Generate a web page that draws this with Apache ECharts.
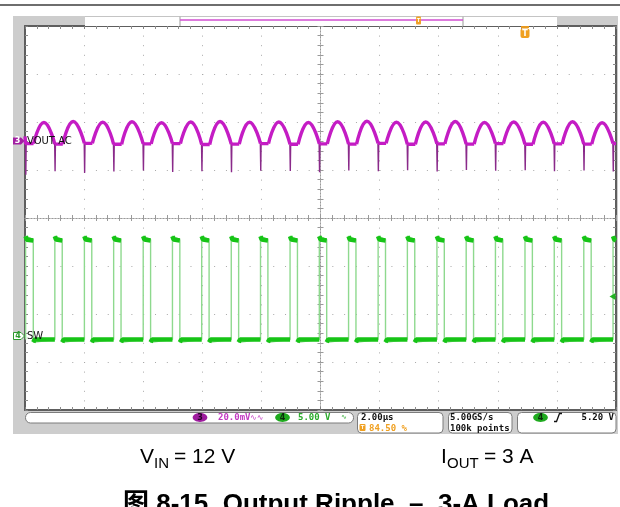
<!DOCTYPE html>
<html><head><meta charset="utf-8">
<script src="https://cdn.jsdelivr.net/npm/echarts@6/dist/echarts.min.js"></script>
<style>html,body{margin:0;padding:0;background:#fff}#c{width:620px;height:507px}</style>
</head><body><div id="c"></div>
<script>
// ---- data read from the scope capture (time in µs, 2 µs/div) ----
const swRiseUs  = [0.02,1.01,2.01,3.00,4.00,4.99,5.98,6.98,7.97,8.97,9.96,10.95,11.95,12.94,13.94,14.93,15.92,16.92,17.91,18.91,19.90];
const swFallUs  = [0.28,1.26,2.26,3.25,4.25,5.24,6.23,7.23,8.22,9.22,10.21,11.20,12.20,13.19,14.19,15.18,16.17,17.17,18.16,19.16];
const swHighV = 10.15, swOvershootV = 10.5, swLowV = -0.25, swUndershootV = -0.55;

const voutEdgeUs      = swRiseUs;
const voutTroughEndUs = [0.29,1.28,2.28,3.27,4.27,5.26,6.25,7.25,8.24,9.24,10.23,11.22,12.22,13.21,14.21,15.20,16.19,17.19,18.18,19.18];
const voutPeakUs      = [0.64,1.63,2.63,3.62,4.62,5.61,6.60,7.60,8.59,9.59,10.58,11.57,12.57,13.56,14.56,15.55,16.54,17.54,18.53,19.53];
const voutPeakMv      = [7.8,8.2,7.9,8.1,7.7,8.0,8.2,7.9,8.0,7.8,8.1,8.3,7.9,8.0,8.2,7.8,8.0,7.9,8.1,7.7];
const voutTroughMv    = [-1.0,-1.2,-0.9,-1.3,-1.1,-1.0,-1.4,-1.2,-1.0,-1.3,-1.1,-1.2,-0.9,-1.3,-1.1,-1.2,-1.0,-1.3,-1.1,-1.2,-1.0];
const voutSpikeMv     = [-14.0,-12.5,-13.2,-12.6,-12.2,-12.8,-12.5,-12.9,-12.3,-12.4,-12.9,-12.2,-12.5,-12.1,-12.6,-12.0,-12.3,-12.1,-12.5,-12.2,-12.6];
const voutStartMv = 2.0;

// channel settings
const ch3MvPerDiv = 20, ch3PosDiv = 1.6;
const ch4VPerDiv = 5, ch4PosDiv = -2.48;

// ---- build polylines ----
const voutFlat = [[0, voutStartMv]];
const voutArch = [];
for (let k = 0; k < voutEdgeUs.length; k++) {
  const e = voutEdgeUs[k];
  voutFlat.push([e, voutTroughMv[k]]);
  if (k < voutPeakUs.length) {
    voutFlat.push([voutTroughEndUs[k], voutTroughMv[k]], [null, null]);
    const nextE = voutEdgeUs[k + 1];
    voutArch.push([voutTroughEndUs[k], voutTroughMv[k]], [voutPeakUs[k], voutPeakMv[k]], [nextE, voutTroughMv[k + 1]], [null, null]);
  } else {
    voutFlat.push([20, voutTroughMv[k]]);
  }
}
const voutSpikes = [];
for (let k = 0; k < voutEdgeUs.length; k++) {
  const e = voutEdgeUs[k];
  voutSpikes.push([e - 0.006, voutTroughMv[k]], [e + 0.008, voutSpikeMv[k]], [e + 0.02, voutTroughMv[k]], [null, null]);
}
const swEdges = [];
const swLevels = [];
for (let k = 0; k < swRiseUs.length; k++) {
  const r = swRiseUs[k];
  const f = k < swFallUs.length ? swFallUs[k] : 20;
  swEdges.push([r, swLowV], [r, swOvershootV], [f, swHighV]);
  if (k < swFallUs.length) swEdges.push([f, swUndershootV]);
  swLevels.push([r, swOvershootV], [r + 0.04, swHighV], [f, swHighV - 0.1], [null, null]);
  if (k < swFallUs.length) {
    const nr = k + 1 < swRiseUs.length ? swRiseUs[k + 1] : 20;
    swLevels.push([f, swUndershootV], [f + 0.05, swLowV], [nr, swLowV], [null, null]);
  }
}

// ---- axes ----
function xa(extra) {
  return Object.assign({
    type: 'value', min: 0, max: 20, interval: 2, gridIndex: 0,
    axisLine: {show: true, onZero: false, lineStyle: {color: '#5e5e5e', width: 2}},
    axisTick: {show: true, inside: true, length: 3, lineStyle: {color: '#808080'}},
    minorTick: {show: true, splitNumber: 5, length: 3, lineStyle: {color: '#8c8c8c'}},
    axisLabel: {show: false}, splitLine: {show: false}
  }, extra);
}
function ya(extra) {
  return Object.assign({
    type: 'value', min: -4, max: 4, interval: 1, gridIndex: 0,
    axisLine: {show: true, onZero: false, lineStyle: {color: '#5e5e5e', width: 2}},
    axisTick: {show: true, inside: true, length: 3, lineStyle: {color: '#808080'}},
    minorTick: {show: true, splitNumber: 5, length: 3, lineStyle: {color: '#8c8c8c'}},
    axisLabel: {show: false}, splitLine: {show: false}
  }, extra);
}
const centerLine = {show: true, onZero: false, lineStyle: {color: '#9a9a9a', width: 1, type: [1, 2]}};
const centerTick = {show: true, length: 3, lineStyle: {color: '#9a9a9a'}};
const centerMinor = {show: true, splitNumber: 5, length: 3, lineStyle: {color: '#9a9a9a'}};

const xAxes = [
  xa({position: 'bottom', splitLine: {show: true, lineStyle: {color: '#a8a8a8', width: 1, type: [1, 8.6]}}}),
  xa({position: 'top'}),
  xa({position: 'top', offset: -192, axisLine: centerLine, axisTick: Object.assign({inside: true}, centerTick), minorTick: centerMinor}),
  xa({position: 'top', offset: -192, axisLine: centerLine, axisTick: Object.assign({inside: false}, centerTick), minorTick: centerMinor})
];
const yAxes = [
  ya({position: 'left', splitLine: {show: true, lineStyle: {color: '#a8a8a8', width: 1, type: [1, 10.82]}}}),
  ya({position: 'right'}),
  ya({position: 'left', offset: -295.5, axisLine: centerLine, axisTick: Object.assign({inside: true}, centerTick), minorTick: centerMinor}),
  ya({position: 'left', offset: -295.5, axisLine: centerLine, axisTick: Object.assign({inside: false}, centerTick), minorTick: centerMinor}),
  {type: 'value', show: false, min: -(4 + ch3PosDiv) * ch3MvPerDiv, max: (4 - ch3PosDiv) * ch3MvPerDiv},
  {type: 'value', show: false, min: -(4 + ch4PosDiv) * ch4VPerDiv, max: (4 - ch4PosDiv) * ch4VPerDiv}
];

// ---- decorations ----
const mono = 'bold 9px "DejaVu Sans Mono", monospace';
function txt(x, y, s, fill, font, align, valign, z) {
  return {type: 'text', x: x, y: y, z: z || 50, silent: true,
    style: {text: s, fill: fill, font: font, align: align || 'left', verticalAlign: valign || 'middle',
            textAlign: align || 'left', textVerticalAlign: valign || 'middle'}};
}
function rect(x, y, w, h, fill, stroke, r, z, lw) {
  return {type: 'rect', z: z === undefined ? 50 : z, silent: true, shape: {x: x, y: y, width: w, height: h, r: r || 0},
    style: {fill: fill, stroke: stroke || null, lineWidth: lw || 1}};
}
function line(x1, y1, x2, y2, color, w, z) {
  return {type: 'line', z: z || 50, silent: true, shape: {x1: x1, y1: y1, x2: x2, y2: y2}, style: {stroke: color, lineWidth: w}};
}
function poly(points, fill, stroke, z) {
  return {type: 'polygon', z: z || 50, silent: true, shape: {points: points}, style: {fill: fill, stroke: stroke || null, lineWidth: 1}};
}
function ell(cx, cy, rx, ry, fill, z) {
  return {type: 'ellipse', z: z || 50, silent: true, shape: {cx: cx, cy: cy, rx: rx, ry: ry}, style: {fill: fill}};
}

const capFont = '21px "Liberation Sans", Arial, sans-serif';
const subFont = '15px "Liberation Sans", Arial, sans-serif';

const graphics = [
  rect(0, 4, 620, 2, '#6e6e6e', null, 0, 1),
  rect(13, 16, 605, 418, '#cdcdcd', null, 0, -10),
  rect(85, 16, 472, 10, '#ffffff', null, 0, 1),
  line(85, 16.5, 557, 16.5, '#c4c4c4', 1, 2),
  line(180, 16, 180, 26, '#bdbdbd', 1.5, 2),
  line(463, 16, 463, 26, '#bdbdbd', 1.5, 2),
  line(180, 20, 463, 20, '#d24fd2', 1.5, 3),
  rect(416, 16.5, 5, 8, '#f0a028', null, 1, 4),
  txt(418.5, 20.5, 'T', '#ffffff', 'bold 6px sans-serif', 'center', 'middle', 5),
  line(521, 27, 529, 27, '#e89a20', 2, 60),
  rect(520.5, 28.5, 9, 9.5, '#f0a020', null, 2, 60),
  txt(525, 33.5, 'T', '#ffffff', 'bold 8px "DejaVu Sans", sans-serif', 'center', 'middle', 61),
  // channel markers
  poly([[13, 137.5], [21, 137.5], [24.5, 141], [21, 144.5], [13, 144.5]], '#a21fa2', null, 60),
  txt(17.5, 141.2, '3', '#ffffff', 'bold 8px "DejaVu Sans", sans-serif', 'center', 'middle', 61),
  txt(27, 141.5, 'VOUT AC', '#111111', '10px "DejaVu Sans", sans-serif', 'left', 'middle', 61),
  poly([[13.5, 332.5], [21, 332.5], [24.5, 336], [21, 339.5], [13.5, 339.5]], '#ffffff', '#2f9a2f', 60),
  txt(18, 336.2, '4', '#2f9a2f', 'bold 8px "DejaVu Sans", sans-serif', 'center', 'middle', 61),
  txt(27, 336.5, 'SW', '#111111', '10px "DejaVu Sans", sans-serif', 'left', 'middle', 61),
  poly([[609.5, 296.5], [615.5, 293], [615.5, 300]], '#22b422', null, 60),
  // status bar
  rect(25.5, 412.5, 328, 10.5, '#ffffff', '#7c7c7c', 5, 20),
  ell(200, 417.5, 7.3, 4.4, '#9e1c9e', 21),
  txt(200, 417.8, '3', '#2a002a', 'bold 8px "DejaVu Sans", sans-serif', 'center', 'middle', 22),
  txt(218, 418, '20.0mV', '#c23ac2', mono, 'left', 'middle', 22),
  txt(250, 418, '∿∿', '#c23ac2', '8px "DejaVu Sans", sans-serif', 'left', 'middle', 22),
  ell(282.5, 417.5, 7.3, 4.4, '#1faa1f', 21),
  txt(282.5, 417.8, '4', '#0a2a0a', 'bold 8px "DejaVu Sans", sans-serif', 'center', 'middle', 22),
  txt(298, 418, '5.00 V', '#2aaa2a', mono, 'left', 'middle', 22),
  txt(341, 417, '∿', '#2aaa2a', '7px "DejaVu Sans", sans-serif', 'left', 'middle', 22),
  rect(357.5, 412.5, 85.5, 20.5, '#ffffff', '#7c7c7c', 4, 20),
  txt(361, 418, '2.00µs', '#111111', mono, 'left', 'middle', 22),
  rect(359.5, 424, 6, 7, '#f0a020', null, 1, 21),
  txt(362.5, 427.8, 'T', '#ffffff', 'bold 6px sans-serif', 'center', 'middle', 22),
  txt(369, 428.5, '84.50 %', '#f0a020', mono, 'left', 'middle', 22),
  rect(448.5, 412.5, 63.5, 20.5, '#ffffff', '#7c7c7c', 4, 20),
  txt(450, 418, '5.00GS/s', '#111111', mono, 'left', 'middle', 22),
  txt(450, 428.5, '100k points', '#111111', mono, 'left', 'middle', 22),
  rect(517.5, 412.5, 98.5, 20.5, '#ffffff', '#7c7c7c', 4, 20),
  ell(540.5, 417.5, 7.3, 4.4, '#1faa1f', 21),
  txt(540.5, 417.8, '4', '#0a2a0a', 'bold 8px "DejaVu Sans", sans-serif', 'center', 'middle', 22),
  {type: 'polyline', z: 22, silent: true, shape: {points: [[554, 421.5], [556.5, 421.5], [559.5, 413.5], [562, 413.5]]}, style: {stroke: '#111', lineWidth: 1.3, fill: null}},
  txt(614, 418, '5.20 V', '#111111', mono, 'right', 'middle', 22),
  // caption
  txt(140, 468, 'V', '#000000', capFont, 'left', 'bottom', 30),
  txt(154, 471, 'IN', '#000000', subFont, 'left', 'bottom', 30),
  txt(174, 468, '= 12 V', '#000000', capFont, 'left', 'bottom', 30),
  txt(441, 468, 'I', '#000000', capFont, 'left', 'bottom', 30),
  txt(447, 471, 'OUT', '#000000', subFont, 'left', 'bottom', 30),
  txt(484, 468, '= 3 A', '#000000', capFont, 'left', 'bottom', 30),
  txt(123, 518, '图 8-15. Output Ripple  –  3-A Load', '#000000', 'bold 26px "Liberation Sans", "Noto Sans CJK SC", Arial, sans-serif', 'left', 'bottom', 30)
];

const chart = echarts.init(document.getElementById('c'), null, {renderer: 'canvas'});
const traceV = {color: '#c41cc4', width: 3.4};
chart.setOption({
  animation: false,
  backgroundColor: '#ffffff',
  grid: {left: 25, right: 4, top: 26, bottom: 97, show: true, backgroundColor: '#ffffff', borderWidth: 0},
  xAxis: xAxes,
  yAxis: yAxes,
  series: [
    {type: 'line', name: 'SW edges', xAxisIndex: 0, yAxisIndex: 5, data: swEdges, showSymbol: false, symbol: 'none',
      lineStyle: {color: '#8ed98e', width: 1.4}, z: 3},
    {type: 'line', name: 'SW', xAxisIndex: 0, yAxisIndex: 5, data: swLevels, showSymbol: false, symbol: 'none', connectNulls: false,
      lineStyle: {color: '#16c416', width: 4.6}, z: 4},
    {type: 'line', name: 'VOUT spikes', xAxisIndex: 0, yAxisIndex: 4, data: voutSpikes, showSymbol: false, symbol: 'none', connectNulls: false,
      lineStyle: {color: '#8a2a8a', width: 1.4}, z: 5},
    {type: 'line', name: 'VOUT AC flat', xAxisIndex: 0, yAxisIndex: 4, data: voutFlat, showSymbol: false, symbol: 'none', connectNulls: false,
      lineStyle: traceV, z: 6},
    {type: 'line', name: 'VOUT AC', xAxisIndex: 0, yAxisIndex: 4, data: voutArch, showSymbol: false, symbol: 'none', connectNulls: false, smooth: 0.5,
      lineStyle: traceV, z: 6}
  ],
  graphic: graphics
});
</script>
</body></html>
